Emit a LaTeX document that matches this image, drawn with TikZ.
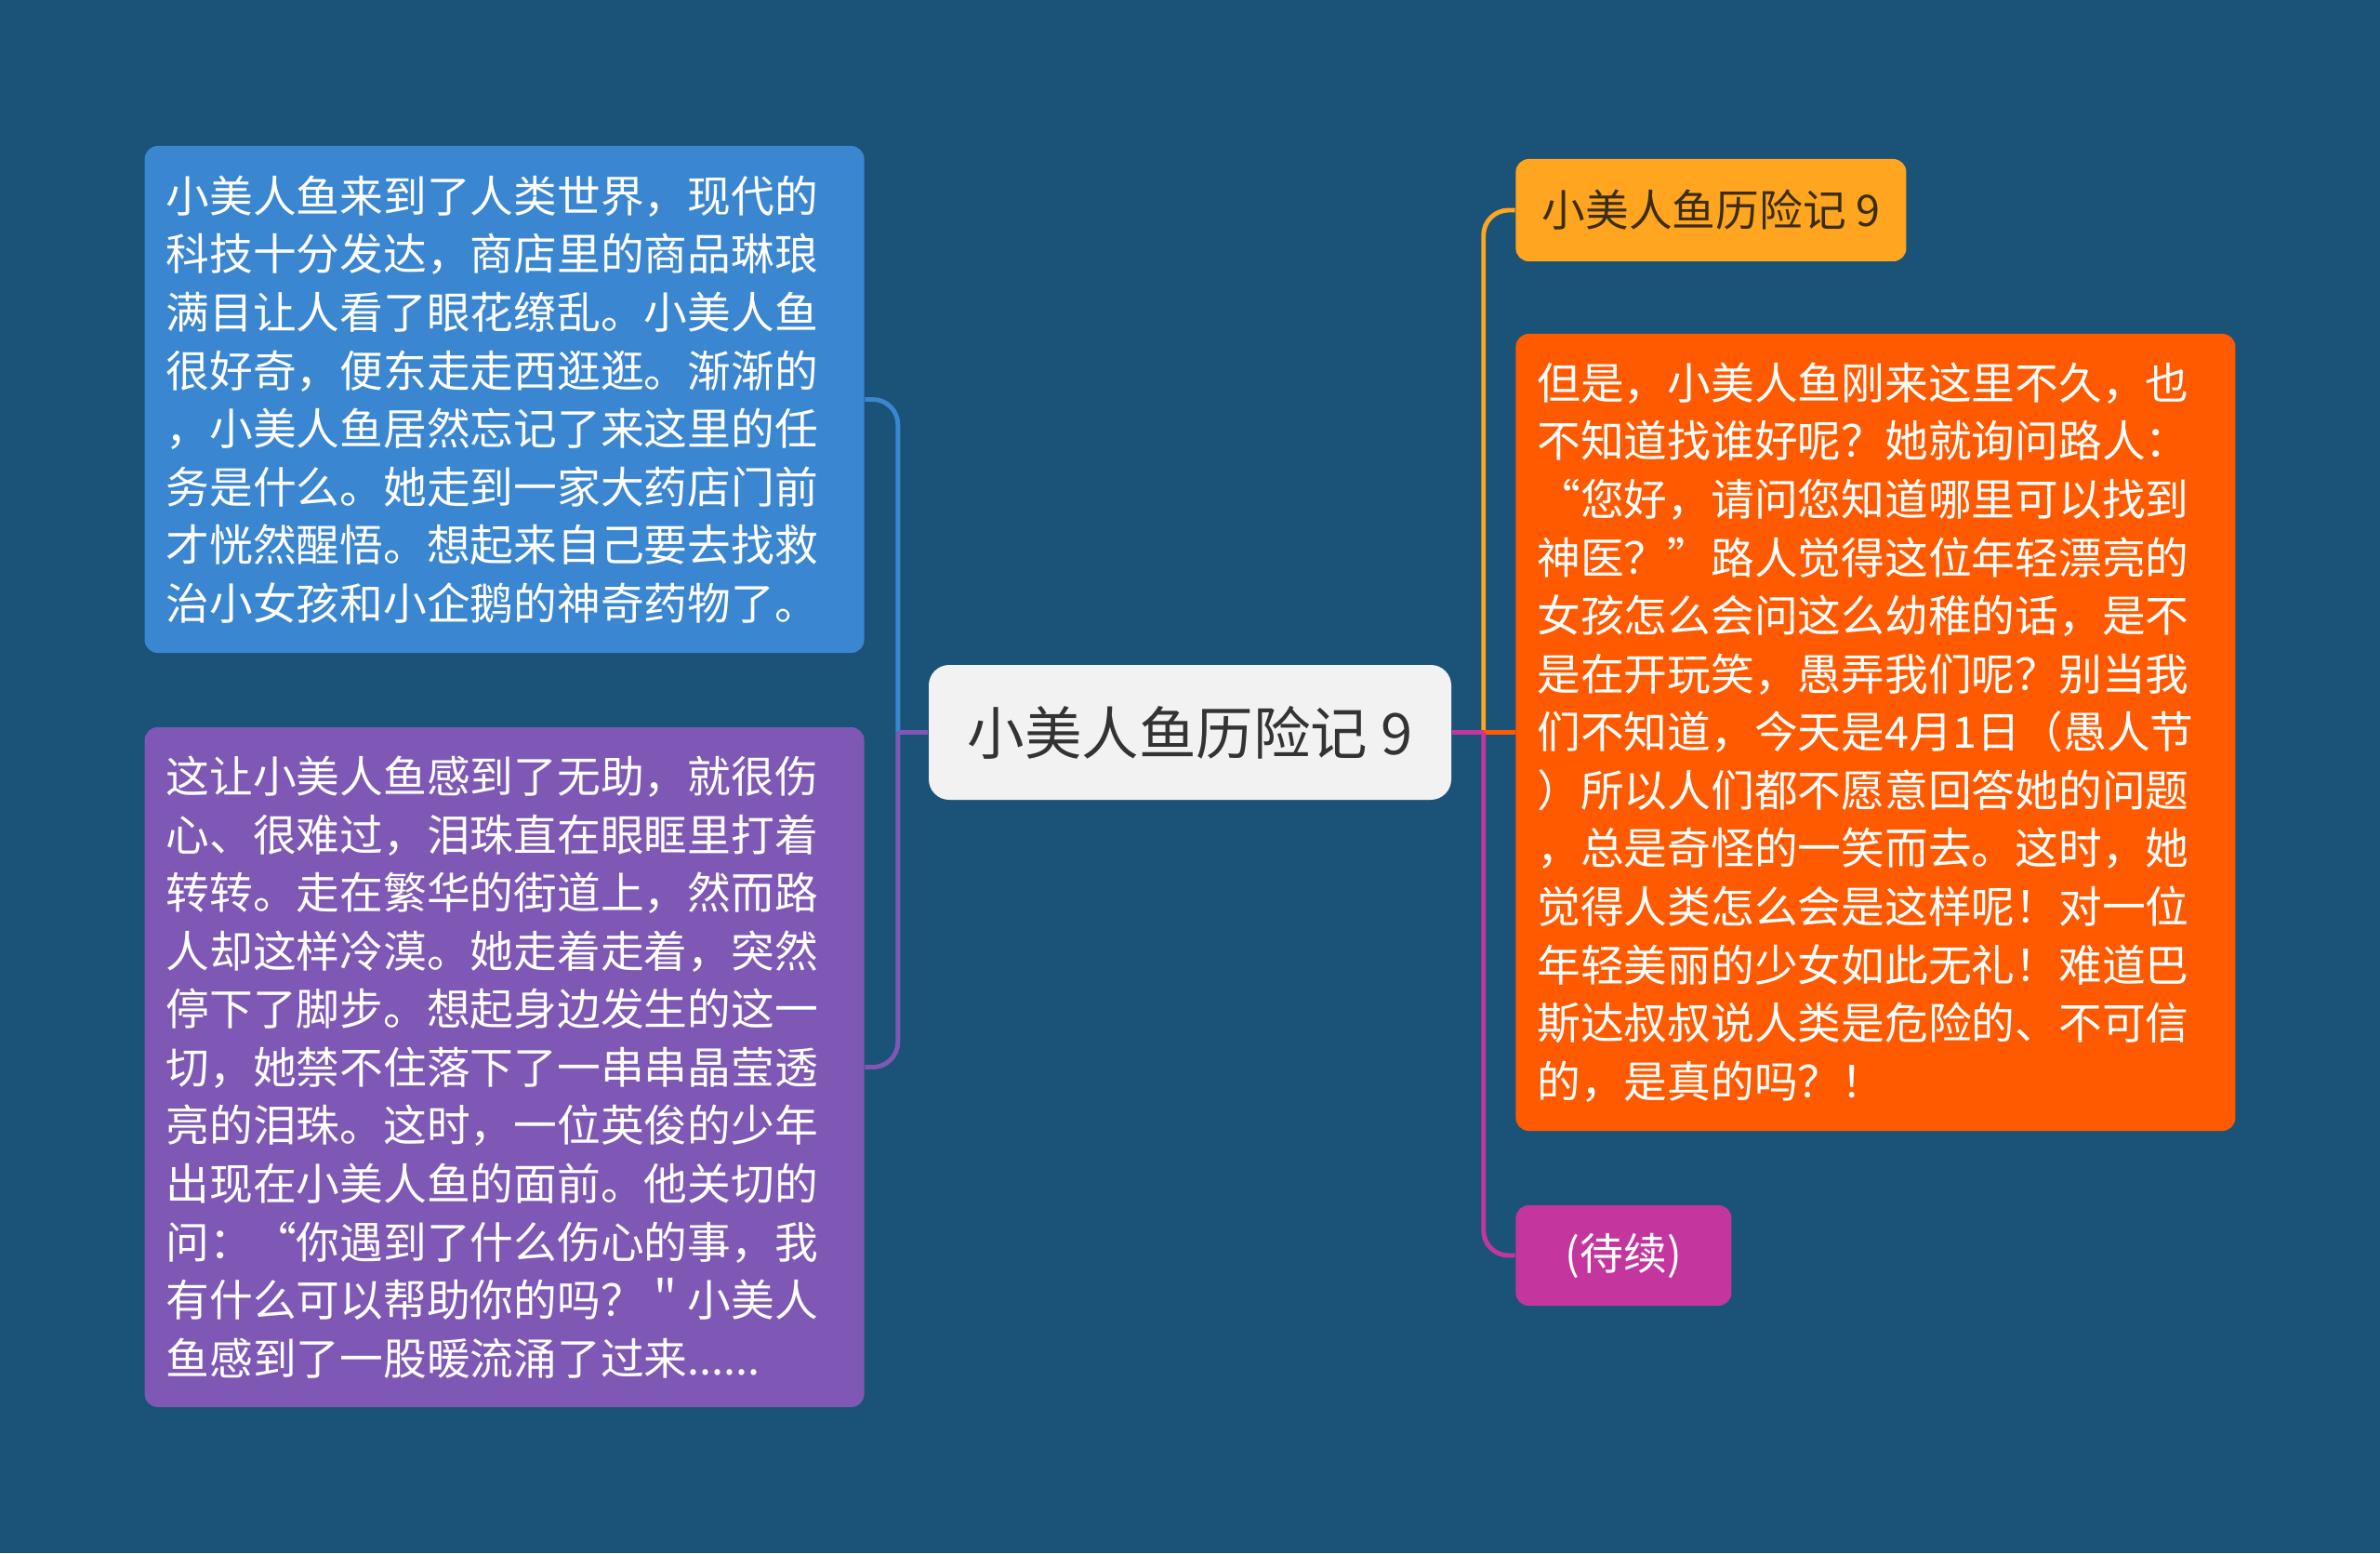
\documentclass[tikz,border=0pt]{standalone}
\usepackage{fontspec}
\setmainfont{Noto Sans CJK SC}
\usepackage{tikz}
\usetikzlibrary{positioning}
\definecolor{mapBg}{HTML}{1A5377}
\definecolor{mapBlue}{HTML}{3A86D1}
\definecolor{mapPurple}{HTML}{7E58B4}
\definecolor{mapAmber}{HTML}{FFA51F}
\definecolor{mapOrange}{HTML}{FF5A00}
\definecolor{mapMagenta}{HTML}{C4369E}
\definecolor{mapPaper}{HTML}{F2F2F2}
\definecolor{mapInk}{HTML}{333333}
\definecolor{mapBrown}{HTML}{3B2D10}
\tikzset{
  mapRoot/.style={
    fill=mapPaper,
    text=mapInk,
    rounded corners=0.22cm,
    minimum width=5.62cm,
    minimum height=1.45cm,
    inner sep=0pt,
    font=\fontsize{17.5pt}{21pt}\selectfont
  },
  mapTopic/.style={
    rounded corners=0.14cm,
    inner xsep=0.23cm,
    inner ysep=0pt,
    align=left,
    text=white,
    font=\fontsize{13.3pt}{17.8pt}\selectfont
  },
  mapLink/.style={line width=1.4pt, rounded corners=0.27cm}
}

\begin{document}
\begin{tikzpicture}
  \fill[mapBg] (0,0) rectangle (25.6,16.7);
  \node[mapRoot] (root) at (12.80,8.825) {小美人鱼历险记 9};
  \node[mapTopic, fill=mapBlue, text width=7.28cm, minimum height=5.45cm,
        left=0.68cm of root, yshift=3.58cm] (shop) {小美人鱼来到了人类世界，现代的\\
科技十分发达，商店里的商品琳琅\\
满目让人看了眼花缭乱。小美人鱼\\
很好奇，便东走走西逛逛。渐渐的\\
，小美人鱼居然忘记了来这里的任\\
务是什么。她走到一家大药店门前\\
才恍然醒悟。想起来自己要去找救\\
治小女孩和小企鹅的神奇药物了。};
  \node[mapTopic, fill=mapPurple, text width=7.28cm, minimum height=7.31cm,
        left=0.68cm of root, yshift=-3.60cm] (help) {这让小美人鱼感到了无助，就很伤\\
心、很难过，泪珠直在眼眶里打着\\
转转。走在繁华的街道上，然而路\\
人却这样冷漠。她走着走着，突然\\
停下了脚步。想起身边发生的这一\\
切，她禁不住落下了一串串晶莹透\\
亮的泪珠。这时，一位英俊的少年\\
出现在小美人鱼的面前。他关切的\\
问：“你遇到了什么伤心的事，我\\
有什么可以帮助你的吗？＂小美人\\
鱼感到了一股暖流涌了过来......};
  \node[mapTopic, fill=mapAmber, text=mapBrown, align=center, inner xsep=0pt,
        minimum width=4.20cm, minimum height=1.10cm,
        right=0.68cm of root, yshift=5.615cm] (title) {小美人鱼历险记 9};
  \node[mapTopic, fill=mapOrange, text width=7.28cm, minimum height=8.57cm,
        right=0.68cm of root] (ask) {但是，小美人鱼刚来这里不久，也\\
不知道找谁好呢？她就询问路人：\\
“您好，请问您知道哪里可以找到\\
神医？”路人觉得这位年轻漂亮的\\
女孩怎么会问这么幼稚的话，是不\\
是在开玩笑，愚弄我们呢？别当我\\
们不知道，今天是4月1日（愚人节\\
）所以人们都不愿意回答她的问题\\
，总是奇怪的一笑而去。这时，她\\
觉得人类怎么会是这样呢！对一位\\
年轻美丽的少女如此无礼！难道巴\\
斯达叔叔说人类是危险的、不可信\\
的，是真的吗？！};
  \node[mapTopic, fill=mapMagenta, align=center, inner xsep=0pt,
        minimum width=2.32cm, minimum height=1.08cm,
        right=0.68cm of root, yshift=-5.625cm] (tbc) {(待续)};

  \coordinate[left=0.325cm of root.west] (lj);
  \coordinate[right=0.34cm of root.east] (rj);

  % left branches
  \draw[mapLink, draw=mapBlue] (lj) |- (shop.east);
  \draw[mapLink, draw=mapPurple] (root.west) -- (lj);
  \draw[mapLink, draw=mapPurple] (lj) |- (help.east);
  % right branches
  \draw[mapLink, draw=mapAmber] (rj) |- (title.west);
  \draw[mapLink, draw=mapOrange] (root.east) -- (ask.west);
  \draw[mapLink, draw=mapMagenta] (root.east) -- (rj);
  \draw[mapLink, draw=mapMagenta] (rj) |- (tbc.west);
\end{tikzpicture}
\end{document}
